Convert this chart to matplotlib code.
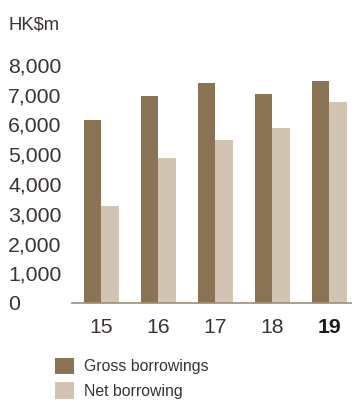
import matplotlib
matplotlib.use("Agg")
import matplotlib.pyplot as plt
import numpy as np
from matplotlib.patches import Patch

years = ["15", "16", "17", "18", "19"]
gross = [6150, 6970, 7400, 7030, 7470]
net = [3270, 4880, 5490, 5890, 6770]
yticks = [0, 1000, 2000, 3000, 4000, 5000, 6000, 7000, 8000]
ytick_labels = ["0", "1,000", "2,000", "3,000", "4,000", "5,000", "6,000", "7,000", "8,000"]
legend_labels = ["Gross borrowings", "Net borrowing"]

C_GROSS = "#8b7355"
C_NET = "#d2c4b3"
TXT = "#3a3431"
plt.rcParams['font.family'] = ['Liberation Sans', 'DejaVu Sans']

W, H = 352, 403
fig = plt.figure(figsize=(W/100, H/100), dpi=100)
ax = fig.add_axes([72/W, 1 - 303/H, 280/W, 238/H])

x = np.arange(len(years))
bw = 0.307
ax.bar(x - bw/2, gross, width=bw, color=C_GROSS, linewidth=0)
ax.bar(x + bw/2, net, width=bw, color=C_NET, linewidth=0)

ax.set_xlim(-0.509, 4.40)
ax.set_ylim(0, 8000)
for s in ["top", "right", "left"]:
    ax.spines[s].set_visible(False)
ax.spines["bottom"].set_color("#a08c78")
ax.spines["bottom"].set_linewidth(1.2)

ax.set_yticks(yticks)
ax.set_yticklabels(ytick_labels, fontsize=15.3, color=TXT)
ax.tick_params(axis="y", length=0, pad=46)
for lbl in ax.get_yticklabels():
    lbl.set_ha("left")

ax.set_xticks(x)
ax.set_xticklabels(years, fontsize=15.3, color=TXT)
ax.tick_params(axis="x", length=0, pad=11)
ax.get_xticklabels()[-1].set_fontweight("bold")
ax.get_xticklabels()[-1].set_color("#1a1a1a")

fig.text(9/W, 1 - 25/H, "HK$m", fontsize=13.3, color=TXT, va="center", ha="left")

handles = [Patch(facecolor=C_GROSS, edgecolor="none"), Patch(facecolor=C_NET, edgecolor="none")]
fig.legend(handles, legend_labels, loc="upper left", bbox_to_anchor=(55/W, 1 - 358/H),
           frameon=False, fontsize=11.4, handlelength=1.2, handleheight=1.2,
           handletextpad=0.6, labelspacing=0.5, borderpad=0, borderaxespad=0,
           labelcolor=TXT)

fig.savefig("out.png", dpi=100)
